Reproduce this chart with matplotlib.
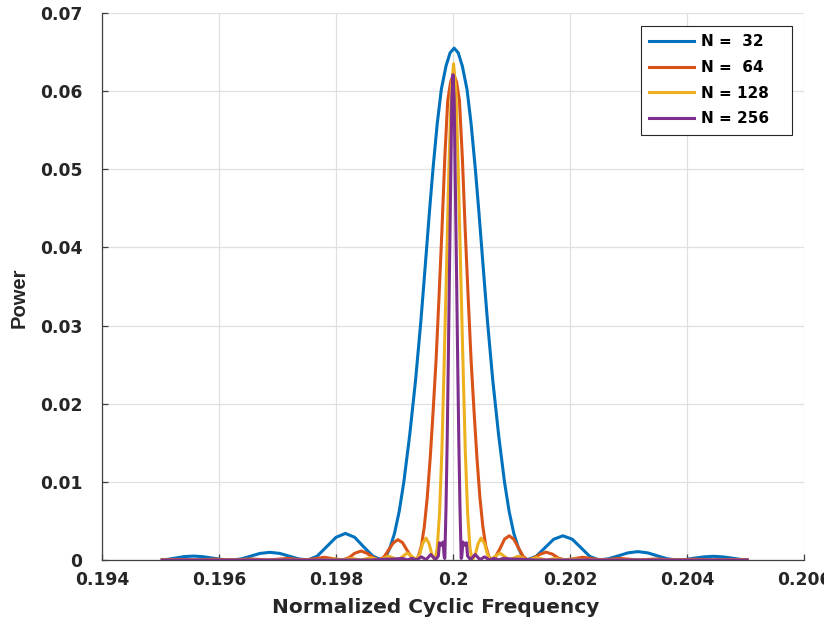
import matplotlib
matplotlib.use("Agg")
import matplotlib.pyplot as plt

plt.rcParams['font.family'] = ['DejaVu Sans']
plt.rcParams['font.weight'] = 'bold'

# N = 32
freq_32 = [0.19503, 0.19512, 0.19526, 0.19540, 0.19556, 0.19572, 0.19588, 0.19604, 0.19622,
           0.19638, 0.19654, 0.19670, 0.19687, 0.19704, 0.19720, 0.19736, 0.19752,
           0.19768, 0.19784, 0.19800, 0.19816, 0.19832, 0.19847, 0.19863,
           0.19878, 0.19885, 0.19892, 0.19900, 0.19908, 0.19916, 0.19926, 0.19936, 0.19945,
           0.19950, 0.19955, 0.19960, 0.19966, 0.19973, 0.19980, 0.19988, 0.19995, 0.20002,
           0.20009, 0.20016, 0.20024, 0.20031, 0.20038, 0.20044, 0.20049, 0.20054, 0.20059,
           0.20068, 0.20078, 0.20088, 0.20096, 0.20104, 0.20112, 0.20119, 0.20126,
           0.20142, 0.20157, 0.20172, 0.20188, 0.20204, 0.20219, 0.20234, 0.20250,
           0.20266, 0.20283, 0.20299, 0.20316, 0.20333, 0.20349, 0.20366, 0.20382,
           0.20398, 0.20413, 0.20429, 0.20445, 0.20461, 0.20477, 0.20492, 0.20503]
power_32 = [0.00002, 0.00008, 0.00025, 0.00043, 0.00050, 0.00043, 0.00025, 0.00008, 0.0,
            0.00014, 0.00049, 0.00084, 0.00098, 0.00084, 0.00049, 0.00014, 0.0,
            0.0005, 0.0017, 0.0029, 0.0034, 0.0029, 0.0017, 0.0005,
            0.0, 0.0004, 0.0015, 0.0034, 0.0062, 0.0100, 0.0160, 0.0230, 0.0305,
            0.0352, 0.0400, 0.0448, 0.0502, 0.0558, 0.0602, 0.0632, 0.0649, 0.0655,
            0.0649, 0.0632, 0.0602, 0.0558, 0.0502, 0.0448, 0.0400, 0.0352, 0.0305,
            0.0230, 0.0160, 0.0100, 0.0062, 0.0034, 0.0015, 0.0004, 0.0,
            0.00045, 0.00155, 0.00265, 0.0031, 0.00265, 0.00155, 0.00045, 0.0,
            0.00016, 0.00054, 0.00091, 0.00107, 0.00091, 0.00054, 0.00016, 0.0,
            0.00007, 0.00024, 0.0004, 0.00047, 0.0004, 0.00024, 0.00007, 0.00001]

# N = 64
freq_64 = [0.19503, 0.19528, 0.19559, 0.19591, 0.19622, 0.19654, 0.19685,
           0.19701, 0.19717, 0.19732, 0.19748, 0.19764, 0.19780, 0.19795, 0.19811,
           0.19822, 0.19832, 0.19843, 0.19853, 0.19864, 0.19874,
           0.19882, 0.19890, 0.19898, 0.19906, 0.19914, 0.19921, 0.19929, 0.19937,
           0.19941, 0.19946, 0.19951, 0.19956, 0.19961, 0.19966, 0.19971, 0.19976,
           0.19981, 0.19986, 0.19991, 0.19996, 0.20001,
           0.20006, 0.20011, 0.20016, 0.20021, 0.20026, 0.20031, 0.20036, 0.20041,
           0.20046, 0.20051, 0.20056, 0.20061, 0.20065,
           0.20073, 0.20081, 0.20088, 0.20096, 0.20104, 0.20112, 0.20120, 0.20128,
           0.20138, 0.20149, 0.20159, 0.20170, 0.20180, 0.20191,
           0.20207, 0.20222, 0.20238, 0.20254, 0.20270, 0.20285, 0.20301, 0.20317,
           0.20348, 0.20380, 0.20411, 0.20443, 0.20474, 0.20503]
power_64 = [0.00003, 0.00007, 0.0, 0.0001, 0.0, 0.00013, 0.0,
            0.0001, 0.0002, 0.0001, 0.0, 0.00017, 0.00035, 0.00017, 0.0,
            0.00029, 0.00086, 0.00115, 0.00086, 0.00029, 0.0,
            0.00038, 0.0013, 0.0022, 0.0026, 0.0022, 0.0013, 0.00038, 0.0,
            0.0005, 0.0018, 0.0043, 0.0080, 0.0130, 0.0190, 0.0255, 0.0335,
            0.0420, 0.0515, 0.0588, 0.0612, 0.0622,
            0.0612, 0.0588, 0.0515, 0.0420, 0.0335, 0.0255, 0.0190, 0.0130,
            0.0080, 0.0043, 0.0018, 0.0005, 0.0,
            0.00045, 0.00155, 0.00265, 0.0031, 0.00265, 0.00155, 0.00045, 0.0,
            0.00025, 0.00075, 0.0010, 0.00075, 0.00025, 0.0,
            0.00017, 0.00035, 0.00017, 0.0, 0.0001, 0.0002, 0.0001, 0.0,
            0.00013, 0.0, 0.0001, 0.0, 0.00007, 0.00001]

# N = 128
freq_128 = [0.19503, 0.19779, 0.19795, 0.19811, 0.19827, 0.19843, 0.19859, 0.19874,
            0.19890, 0.19906, 0.19914, 0.19922, 0.19930, 0.19938,
            0.19943, 0.19948, 0.19954, 0.19959, 0.19964, 0.19969,
            0.19973, 0.19977, 0.19981, 0.19985, 0.19989, 0.19993, 0.19997, 0.20001,
            0.20005, 0.20009, 0.20013, 0.20017, 0.20021, 0.20025, 0.20029, 0.20033,
            0.20038, 0.20043, 0.20048, 0.20054, 0.20059, 0.20064,
            0.20072, 0.20080, 0.20088, 0.20096, 0.20112, 0.20128, 0.20143, 0.20159,
            0.20175, 0.20191, 0.20207, 0.20223, 0.20503]
power_128 = [0.0, 0.0, 0.00013, 0.0, 0.0002, 0.0, 0.0003, 0.0,
             0.0005, 0.0, 0.00045, 0.0009, 0.00045, 0.0,
             0.0007, 0.0021, 0.0028, 0.0021, 0.0007, 0.0,
             0.0015, 0.0060, 0.0140, 0.0255, 0.0375, 0.0500, 0.0600, 0.0635,
             0.0600, 0.0500, 0.0375, 0.0255, 0.0140, 0.0060, 0.0015, 0.0,
             0.0007, 0.0021, 0.0028, 0.0021, 0.0007, 0.0,
             0.00045, 0.0009, 0.00045, 0.0, 0.0005, 0.0, 0.0003, 0.0,
             0.0002, 0.0, 0.00013, 0.0, 0.0]

# N = 256
freq_256 = [0.19503, 0.19860, 0.19882, 0.19898, 0.19914, 0.19922, 0.19930, 0.19938,
            0.19946, 0.19954, 0.19962, 0.19970, 0.19975, 0.19977, 0.19980, 0.19983,
            0.19985, 0.19986, 0.19988, 0.19990, 0.19992, 0.19994, 0.19996, 0.19998, 0.20000,
            0.20002, 0.20004, 0.20006, 0.20008, 0.20010, 0.20012, 0.20014,
            0.20015, 0.20017, 0.20020, 0.20023, 0.20025, 0.20030, 0.20038, 0.20046,
            0.20054, 0.20062, 0.20070, 0.20078, 0.20086, 0.20102, 0.20118, 0.20140, 0.20503]
power_256 = [0.0, 0.0, 0.0001, 0.00012, 0.0002, 0.00002, 0.0002, 0.00002,
             0.0004, 0.00005, 0.0007, 0.00005, 0.0005, 0.0022, 0.0019, 0.0023,
             0.0004, 0.0002, 0.0065, 0.0150, 0.0255, 0.0370, 0.0480, 0.0590, 0.0621,
             0.0590, 0.0480, 0.0370, 0.0255, 0.0150, 0.0065, 0.0002,
             0.0004, 0.0023, 0.0019, 0.0022, 0.0005, 0.00005, 0.0007, 0.00005,
             0.0004, 0.00002, 0.0002, 0.00002, 0.0002, 0.00012, 0.0001, 0.0, 0.0]

labels = ['N =  32', 'N =  64', 'N = 128', 'N = 256']
colors = ['#0072BD', '#D95319', '#EDB120', '#7E2F8E']

x_ticks = [0.194, 0.196, 0.198, 0.2, 0.202, 0.204, 0.206]
x_ticklabels = ['0.194', '0.196', '0.198', '0.2', '0.202', '0.204', '0.206']
y_ticks = [0, 0.01, 0.02, 0.03, 0.04, 0.05, 0.06, 0.07]
y_ticklabels = ['0', '0.01', '0.02', '0.03', '0.04', '0.05', '0.06', '0.07']

fig = plt.figure(figsize=(8.24, 6.28), dpi=100)
ax = fig.add_axes([0.1238, 0.1083, 0.8519, 0.871])

series = [(freq_32, power_32), (freq_64, power_64), (freq_128, power_128), (freq_256, power_256)]
for (f, p), lab, col in zip(series, labels, colors):
    ax.plot(f, p, color=col, lw=2.2, label=lab, solid_joinstyle='round')

ax.set_xlim(0.194, 0.206)
ax.set_ylim(0, 0.07)
ax.set_xticks(x_ticks)
ax.set_xticklabels(x_ticklabels)
ax.set_yticks(y_ticks)
ax.set_yticklabels(y_ticklabels)

ax.grid(True, color='#E0E0E0', lw=0.9)
ax.set_axisbelow(True)
for s in ['top', 'right']:
    ax.spines[s].set_visible(False)
for s in ['left', 'bottom']:
    ax.spines[s].set_color('#404040')
    ax.spines[s].set_linewidth(0.9)
ax.tick_params(direction='in', length=4, width=0.9, color='#404040',
               labelsize=12.3, labelcolor='#262626')
ax.tick_params(axis='y', pad=14)
ax.tick_params(axis='x', pad=8)

ax.set_xlabel('Normalized Cyclic Frequency', fontsize=14.5, fontweight='bold',
              color='#262626')
ax.xaxis.set_label_coords(0.475, -0.07)
# y label is narrower in the original, so a tighter face is used for it
ax.set_ylabel('Power', fontsize=14.5, fontweight='bold', color='#262626',
              family=['Liberation Sans', 'DejaVu Sans'])
ax.yaxis.set_label_coords(-0.105, 0.48)

leg = ax.legend(loc='upper left', bbox_to_anchor=(0.768, 0.976, 0.215, 0.0),
                mode='expand', borderaxespad=0,
                fontsize=11, handlelength=2.95, handletextpad=0.4, labelspacing=0.7,
                borderpad=0.54, fancybox=False, framealpha=1, edgecolor='#262626')
leg.get_frame().set_linewidth(0.8)

fig.savefig('out.png', dpi=100)
